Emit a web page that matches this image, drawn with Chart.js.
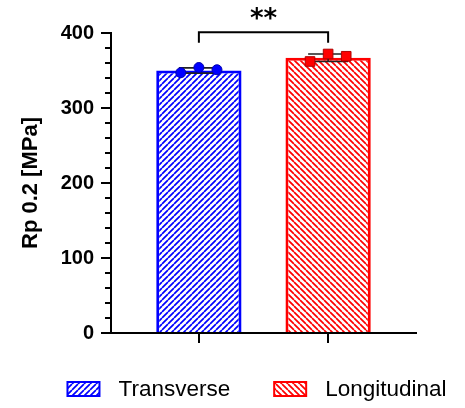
<!DOCTYPE html>
<html><head><meta charset="utf-8">
<script src="https://cdn.jsdelivr.net/npm/chart.js@4/dist/chart.umd.min.js"></script>
<style>html,body{margin:0;padding:0;background:#fff}#wrap{width:465px;height:408px}</style>
</head><body><div id="wrap"><canvas id="c" width="465" height="408"></canvas></div>
<script>
// ---- data ----
const categories = ['Transverse', 'Longitudinal'];
const categoryPositions = [0, 1];
const barMeans = [350, 367];
const barSD = [3.5, 5];
const transversePoints = [347, 354, 351];
const longitudinalPoints = [362, 372, 369];
const pointJitter = [-0.14, 0, 0.14];
const yMin = 0, yMax = 400, yMajorStep = 100, yMinorStep = 20;
const yAxisTitle = 'Rp 0.2 [MPa]';
const significanceLabel = '**';
const significanceLevel = 401;
const significanceDrop = 387;

// ---- style ----
const FONT = '"Liberation Sans", Arial, Helvetica, sans-serif';
Chart.defaults.font.family = FONT;
Chart.defaults.color = '#000';
const BLUE = '#0000ff', RED = '#ff0000';
const canvas = document.getElementById('c');
const mainCtx = canvas.getContext('2d');
function hatch(color, dir, size, lw) {
  const c = document.createElement('canvas');
  c.width = c.height = size;
  const g = c.getContext('2d');
  g.fillStyle = '#fff'; g.fillRect(0, 0, size, size);
  g.strokeStyle = color; g.lineWidth = lw; g.beginPath();
  for (let k = -1; k <= 1; k++) {
    if (dir === '/') { g.moveTo(k * size, size); g.lineTo(k * size + size, 0); }
    else { g.moveTo(k * size, 0); g.lineTo(k * size + size, size); }
  }
  g.stroke();
  return mainCtx.createPattern(c, 'repeat');
}
const bluePattern = hatch(BLUE, '/', 6, 1.7);
const redPattern = hatch(RED, '\\', 6, 1.7);

const BAR_INDEX = 2;

const annotPlugin = {
  id: 'annot',
  afterDatasetDraw(chart, args) {
    if (args.index !== BAR_INDEX) return;
    const ctx = chart.ctx, xs = chart.scales.x, ys = chart.scales.y;
    ctx.save();
    ctx.strokeStyle = '#222'; ctx.lineWidth = 1.6;
    categoryPositions.forEach((p, i) => {
      const x = xs.getPixelForValue(p);
      const yT = ys.getPixelForValue(barMeans[i] + barSD[i]);
      const yB = ys.getPixelForValue(barMeans[i] - barSD[i]);
      const cw = 20;
      ctx.beginPath();
      ctx.moveTo(x, yT); ctx.lineTo(x, yB);
      ctx.moveTo(x - cw, yT); ctx.lineTo(x + cw, yT);
      ctx.moveTo(x - cw, yB); ctx.lineTo(x + cw, yB);
      ctx.stroke();
    });
    ctx.restore();
  },
  afterDraw(chart) {
    const ctx = chart.ctx, xs = chart.scales.x, ys = chart.scales.y, ca = chart.chartArea;
    ctx.save();
    // minor ticks
    ctx.strokeStyle = '#000'; ctx.lineWidth = 2;
    ctx.beginPath();
    for (let v = yMin; v <= yMax; v += yMinorStep) {
      if (v % yMajorStep === 0) continue;
      const y = Math.round(ys.getPixelForValue(v));
      ctx.moveTo(ca.left - 6, y); ctx.lineTo(ca.left, y);
    }
    ctx.stroke();
    // significance bracket
    const x1 = xs.getPixelForValue(categoryPositions[0]);
    const x2 = xs.getPixelForValue(categoryPositions[1]);
    const yl = ys.getPixelForValue(significanceLevel);
    const yd = ys.getPixelForValue(significanceDrop);
    ctx.lineWidth = 2; ctx.strokeStyle = '#000';
    ctx.beginPath();
    ctx.moveTo(x1, yd); ctx.lineTo(x1, yl); ctx.lineTo(x2, yl); ctx.lineTo(x2, yd);
    ctx.stroke();
    ctx.fillStyle = '#000';
    ctx.font = 'bold 26px "DejaVu Sans", ' + FONT;
    ctx.textAlign = 'center'; ctx.textBaseline = 'alphabetic';
    ctx.fillText(significanceLabel, (x1 + x2) / 2, 27);
    // legend
    const ds = chart.data.datasets[BAR_INDEX];
    ctx.font = '22.5px ' + FONT;
    const boxW = 32, boxH = 14, gapText = 19, gapItem = 44;
    const widths = categories.map(l => boxW + gapText + ctx.measureText(l).width);
    const total = widths.reduce((a, b) => a + b, 0) + gapItem * (categories.length - 1);
    let x = 257 - total / 2;
    const yc = 389;
    ctx.textAlign = 'left'; ctx.textBaseline = 'middle';
    categories.forEach((l, i) => {
      ctx.fillStyle = ds.backgroundColor[i];
      ctx.fillRect(x, yc - boxH / 2, boxW, boxH);
      ctx.strokeStyle = ds.borderColor[i]; ctx.lineWidth = 2;
      ctx.strokeRect(x, yc - boxH / 2, boxW, boxH);
      ctx.fillStyle = '#000';
      ctx.fillText(l, x + boxW + gapText, yc + 1);
      x += widths[i] + gapItem;
    });
    ctx.restore();
  }
};

new Chart(canvas, {
  type: 'bar',
  data: {
    datasets: [
      {
        type: 'scatter', label: categories[0] + ' points', order: 1,
        data: transversePoints.map((v, i) => ({ x: categoryPositions[0] + pointJitter[i], y: v })),
        pointStyle: 'circle', pointRadius: 5, backgroundColor: BLUE, borderColor: '#0000b0', borderWidth: 1
      },
      {
        type: 'scatter', label: categories[1] + ' points', order: 1,
        data: longitudinalPoints.map((v, i) => ({ x: categoryPositions[1] + pointJitter[i], y: v })),
        pointStyle: 'rect', pointRadius: 6.8, backgroundColor: RED, borderColor: '#b00000', borderWidth: 1
      },
      {
        type: 'bar', label: 'Mean', order: 3,
        data: barMeans.map((v, i) => ({ x: categoryPositions[i], y: v })),
        backgroundColor: [bluePattern, redPattern],
        borderColor: [BLUE, RED],
        borderWidth: 3,
        barPercentage: 0.66, categoryPercentage: 1
      }
    ]
  },
  options: {
    responsive: false, animation: false, devicePixelRatio: 1,
    layout: { padding: { top: 33, right: 49, left: 0, bottom: 0 } },
    plugins: { legend: { display: false }, tooltip: { enabled: false } },
    scales: {
      x: {
        type: 'linear', min: -0.68, max: 1.68, offset: false,
        afterBuildTicks(s) { s.ticks = categoryPositions.map(v => ({ value: v })); },
        afterFit(s) { s.height = 75; },
        ticks: { display: false, autoSkip: false },
        grid: { offset: false, drawOnChartArea: false, drawTicks: true, tickLength: 10, color: '#000', lineWidth: 2 },
        border: { display: true, color: '#000', width: 2 }
      },
      y: {
        min: yMin, max: yMax,
        afterFit(s) { s.width = 111; },
        ticks: {
          stepSize: yMinorStep, padding: 7, autoSkip: false,
          font: { size: 20, weight: 'bold' }, color: '#000',
          callback: v => (v % yMajorStep === 0 ? String(v) : '')
        },
        grid: {
          drawOnChartArea: false, drawTicks: true, tickLength: 10, lineWidth: 2,
          color: c => (c.tick && c.tick.value % yMajorStep === 0 ? '#000' : 'rgba(0,0,0,0)')
        },
        border: { display: true, color: '#000', width: 2 },
        title: { display: true, text: yAxisTitle, font: { size: 22, weight: 'bold' }, color: '#000', padding: { top: 18, bottom: 0 } }
      }
    }
  },
  plugins: [annotPlugin]
});
</script></body></html>
